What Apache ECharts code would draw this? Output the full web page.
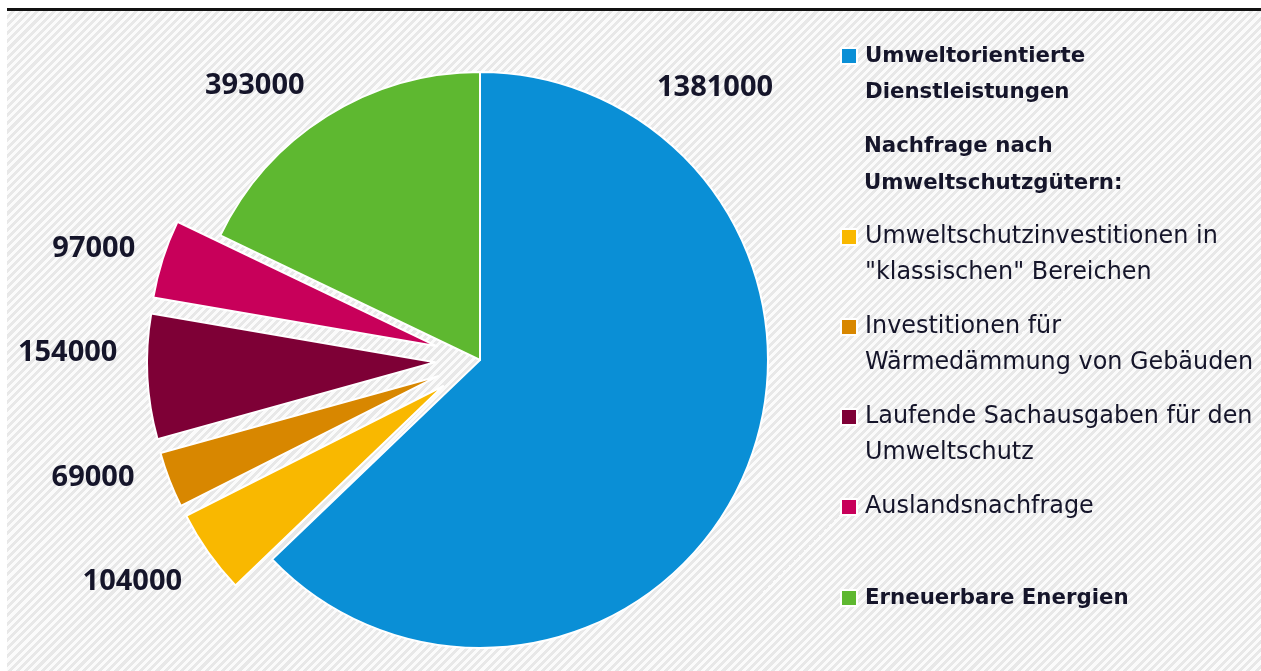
<!DOCTYPE html>
<html><head><meta charset="utf-8">
<script src="https://cdn.jsdelivr.net/npm/echarts@6/dist/echarts.min.js"></script>
<style>
html,body{margin:0;padding:0;background:#fff;}
#wrap{position:relative;width:1261px;height:671px;overflow:hidden;}
#hatch{position:absolute;left:7px;top:11px;right:0;bottom:0;background:repeating-linear-gradient(135deg,#fbfbfb 0px,#fbfbfb 2.9px,#e8e8e8 2.9px,#e8e8e8 5.8px);}
#rule{position:absolute;left:7px;top:8px;right:0;height:3px;background:#111;}
#chart{position:absolute;left:0;top:0;width:1261px;height:671px;}
</style></head>
<body>
<div id="wrap"><div id="hatch"></div><div id="rule"></div><div id="chart"></div></div>
<script>
const categories = [
  'Umweltorientierte\nDienstleistungen',
  'Umweltschutzinvestitionen in\n"klassischen" Bereichen',
  'Investitionen für\nWärmedämmung von Gebäuden',
  'Laufende Sachausgaben für den\nUmweltschutz',
  'Auslandsnachfrage',
  'Erneuerbare Energien'
];
const values = [1381000, 104000, 69000, 154000, 97000, 393000];
const exploded = [false, true, true, true, true, false];
const boldLegend = [true, false, false, false, false, true];
const colors = ['#0a8fd6', '#f9b800', '#d88700', '#7e0036', '#c8005a', '#5eb830'];
const subheading = 'Nachfrage nach\nUmweltschutzgütern:';

const CX = 480, CY = 360, R = 288;
const legendTops = [2, 183, 273, 363, 489, 580];
const labelNudge = [[0, 0], [5, 11], [0, -14], [7, -26], [8, 0], [0, -3]];
const LH = 36;

const legends = categories.map((name, i) => {
  const twoLine = name.indexOf('\n') >= 0;
  return {
    data: [name],
    left: 840, top: legendTops[i], padding: 0,
    orient: 'vertical', selectedMode: false,
    icon: 'rect', itemWidth: 16, itemHeight: 16,
    formatter: twoLine ? function (n) { return ' \n' + n; } : '{name}',
    textStyle: {
      fontFamily: 'DejaVu Sans', fontSize: boldLegend[i] ? 21.3 : 23.9,
      fontWeight: boldLegend[i] ? 'bold' : 'normal', color: '#15152a',
      lineHeight: LH, padding: [0, 0, 0, 3]
    }
  };
});

const chart = echarts.init(document.getElementById('chart'), null, {renderer: 'canvas'});
chart.setOption({
  backgroundColor: 'transparent',
  animation: false,
  title: {
    text: subheading, left: 864, top: 128, padding: 0,
    textStyle: {fontFamily: 'DejaVu Sans', fontSize: 21.3, fontWeight: 'bold', color: '#15152a', lineHeight: 37}
  },
  legend: legends,
  series: [{
    type: 'pie',
    center: [CX, CY], radius: R,
    startAngle: 90, clockwise: true,
    selectedMode: 'multiple', selectedOffset: 45,
    avoidLabelOverlap: false,
    emphasis: {disabled: true, scale: false},
    itemStyle: {borderColor: '#ffffff', borderWidth: 2},
    select: {itemStyle: {borderColor: '#ffffff', borderWidth: 2}},
    label: {
      show: true, position: 'outside', formatter: '{c}',
      fontFamily: 'Noto Sans', fontSize: 29, fontWeight: 'bold', color: '#15152a',
      distanceToLabelLine: 5
    },
    labelLine: {show: false, length: 32, length2: 0},
    labelLayout: function (p) {
      if (p.dataIndex === 0) {
        const a = 33 * Math.PI / 180, rr = R + 37;
        return {x: CX + rr * Math.sin(a), y: CY - rr * Math.cos(a), align: 'left', verticalAlign: 'middle'};
      }
      const n = labelNudge[p.dataIndex];
      return {dx: n[0], dy: n[1]};
    },
    data: categories.map((name, i) => ({
      name: name, value: values[i], selected: exploded[i],
      itemStyle: {color: colors[i]}
    }))
  }]
});
</script>
</body></html>
